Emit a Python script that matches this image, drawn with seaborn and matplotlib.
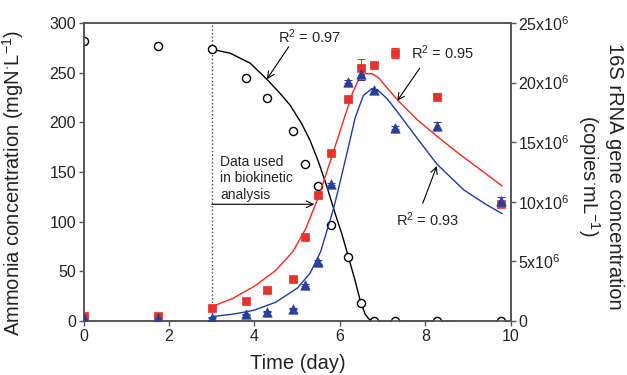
import matplotlib
matplotlib.use('Agg')
import matplotlib.pyplot as plt
import seaborn as sns
import pandas as pd
import numpy as np

# sampling times (day)
time_day = [0.0, 1.75, 3.0, 3.8, 4.3, 4.89, 5.19, 5.48, 5.8, 6.19, 6.49, 6.79, 7.3, 8.28, 9.78]

# ammonia (mgN/L)
ammonia = [282, 277, 273.5, 244.7, 224.3, 191.6, 157.8, 136.2, 96.7, 64.1, 17.9, 0.5, 0, 0, 0]
ammonia_err = [3, 1.5, 1.5, 1.5, 1.5, 1, 1, 2, 1, 1, 1.5, 0, 0, 0, 0]

# 16S rRNA gene copies (x10^6 copies/mL)
red_copies = [0.38, 0.44, 1.07, 1.68, 2.58, 3.53, 7.03, 10.58, 14.13, 18.63, 21.21, 21.45, 22.47, 18.8, 9.78]
red_err = [0.1, 0.1, 0.1, 0.15, 0.15, 0.15, 0.1, 0.15, 0.1, 0.15, 0.8, 0.2, 0.4, 0.3, 0.2]
blue_copies = [0.28, 0.27, 0.28, 0.56, 0.78, 1.03, 3.0, 4.95, 11.5, 20.08, 20.73, 19.38, 16.23, 16.37, 10.07]
blue_err = [0.05, 0.05, 0.05, 0.05, 0.05, 0.05, 0.1, 0.2, 0.1, 0.1, 0.5, 0.1, 0.1, 0.3, 0.3]

# fitted model curves
ammonia_fit_t = [3.0, 3.43, 3.9, 4.29, 4.6, 4.83, 5.1, 5.3, 5.5, 5.69, 5.89, 6.05, 6.19, 6.36, 6.48,
                 6.59, 6.68, 6.8, 6.95, 8.6]
ammonia_fit = [273.5, 269.6, 259.5, 243.3, 229, 217.5, 199, 182, 160, 136, 108, 87, 66, 40, 20,
               7, 2, 0.3, 0, 0]

red_fit_t = [3.0, 3.5, 4.0, 4.5, 4.9, 5.2, 5.5, 5.8, 6.1, 6.3, 6.45, 6.6, 6.75, 6.9, 7.0, 7.34, 7.8,
             8.3, 8.8, 9.3, 9.8]
red_fit = [1.2, 1.91, 2.92, 4.25, 5.83, 7.75, 10.42, 13.67, 17.0, 19.17, 20.33, 20.75, 20.75, 20.42,
           20.0, 18.58, 16.92, 15.42, 14.0, 12.67, 11.33]

blue_fit_t = [3.0, 3.5, 3.82, 4.0, 4.5, 5.0, 5.3, 5.55, 5.85, 5.96, 6.16, 6.36, 6.55, 6.75, 6.9, 7.1,
              7.34, 7.6, 7.88, 8.27, 8.9, 9.4, 9.8]
blue_fit = [0.36, 0.58, 0.78, 0.92, 1.58, 2.75, 4.0, 5.83, 9.42, 11.0, 14.0, 17.08, 18.92, 19.5,
            19.33, 18.67, 17.58, 16.33, 15.0, 13.17, 11.0, 9.83, 9.0]

right_ticks = [0, 5, 10, 15, 20, 25]
right_ticklabels = ['0', '5x10$^6$', '10x10$^6$', '15x10$^6$', '20x10$^6$', '25x10$^6$']

sns.set_theme(style='ticks')
plt.rcParams['font.family'] = ['Liberation Sans', 'DejaVu Sans']
plt.rcParams['mathtext.fontset'] = 'custom'
plt.rcParams['mathtext.rm'] = 'Liberation Sans'
plt.rcParams['mathtext.it'] = 'Liberation Sans:italic'

spine_col = '#555555'
txt_col = '#222222'
red = '#E5322D'
blue = '#2B3E9C'

df = pd.DataFrame({'t': time_day, 'ammonia': ammonia, 'red': red_copies, 'blue': blue_copies})

fig = plt.figure(figsize=(6.27, 3.75), dpi=100)
ax = fig.add_axes([0.1335, 0.144, 0.681, 0.7947])
ax2 = ax.twinx()

# ammonia on left axis
ax.errorbar(time_day, ammonia, yerr=ammonia_err, fmt='none', ecolor='black', elinewidth=0.8, capsize=2.5, capthick=0.8)
sns.lineplot(x=ammonia_fit_t, y=ammonia_fit, ax=ax, color='black', lw=1.0, sort=False, estimator=None)
sns.scatterplot(data=df, x='t', y='ammonia', ax=ax, marker='o', s=34, facecolor='white',
                edgecolor='black', linewidth=1.0, zorder=3)
ax.axvline(3.0, color='#444444', ls=':', lw=1.0)

# 16S rRNA on right axis
sns.lineplot(x=red_fit_t, y=red_fit, ax=ax2, color='#EE2A24', lw=1.0, sort=False, estimator=None)
sns.lineplot(x=blue_fit_t, y=blue_fit, ax=ax2, color='#1E3BA0', lw=1.0, sort=False, estimator=None)
ax2.errorbar(time_day, red_copies, yerr=red_err, fmt='none', ecolor=red, elinewidth=0.8, capsize=3, capthick=0.8)
sns.scatterplot(data=df, x='t', y='red', ax=ax2, marker='s', s=40, color=red, edgecolor=red, linewidth=0.5, zorder=3)
ax2.errorbar(time_day, blue_copies, yerr=blue_err, fmt='none', ecolor=blue, elinewidth=0.8, capsize=3, capthick=0.8)
sns.scatterplot(data=df, x='t', y='blue', ax=ax2, marker='^', s=46, color=blue, edgecolor=blue, linewidth=0.5, zorder=4)

# axes limits / ticks
ax.set_xlim(0, 10)
ax.set_ylim(0, 300)
ax2.set_ylim(0, 25)
ax.set_xticks([0, 2, 4, 6, 8, 10])
ax.set_yticks([0, 50, 100, 150, 200, 250, 300])
ax2.set_yticks(right_ticks)
ax2.set_yticklabels(right_ticklabels)

for a in (ax, ax2):
    for s in a.spines.values():
        s.set_color(spine_col)
        s.set_linewidth(1.2)
    a.tick_params(direction='out', length=3.5, width=1.0, color=spine_col, labelsize=11.5, labelcolor=txt_col, pad=2)

ax.set_xlabel('Time (day)', fontsize=14.5, color=txt_col, va='center')
ax.xaxis.set_label_coords(0.502, -0.141)
ax.set_ylabel('Ammonia concentration (mgN$^{\\cdot}$L$^{-1}$)', fontsize=14.5, color=txt_col, va='center')
ax.yaxis.set_label_coords(-0.166, 0.463)
ax2.set_ylabel('16S rRNA gene concentration\n(copies$^{\\cdot}$mL$^{-1}$)', fontsize=14.5, color=txt_col,
               rotation=270, va='center', linespacing=1.2)
ax2.yaxis.set_label_coords(1.209, 0.487)

# annotations
arrow = dict(arrowstyle='->', lw=0.8, color='black', shrinkA=0, shrinkB=0)
ax.text(5.28, 286, 'R$^2$ = 0.97', fontsize=10.5, ha='center', va='center', color=txt_col)
ax.annotate('', xy=(4.29, 243.4), xytext=(4.8, 276), arrowprops=arrow)
ax.text(8.41, 270, 'R$^2$ = 0.95', fontsize=10.5, ha='center', va='center', color=txt_col)
ax.annotate('', xy=(7.34, 221.5), xytext=(7.87, 254.5), arrowprops=arrow)
ax.text(8.05, 101.7, 'R$^2$ = 0.93', fontsize=10.5, ha='center', va='center', color=txt_col)
ax.annotate('', xy=(8.27, 156), xytext=(7.94, 118.5), arrowprops=arrow)
ax.text(3.19, 167, 'Data used\nin biokinetic\nanalysis', fontsize=10, ha='left', va='top', linespacing=1.2,
        color=txt_col)
ax.annotate('', xy=(5.40, 117.5), xytext=(3.0, 117.5), arrowprops=arrow)

fig.savefig('out.png', dpi=100)
